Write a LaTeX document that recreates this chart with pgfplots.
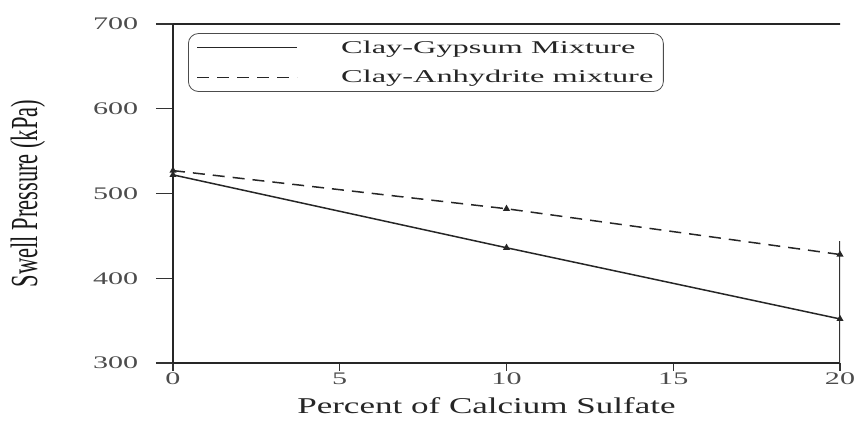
\documentclass[border=0pt]{standalone}
\usepackage{fontspec}
\setmainfont{Liberation Serif}
\usepackage{pgfplots}
\pgfplotsset{compat=1.18}
\newcommand\sx[1]{\scalebox{1.7}[1]{#1}}
\begin{document}
\begin{tikzpicture}
\useasboundingbox (0bp,0bp) rectangle (860bp,430bp);
\begin{axis}[
  at={(173bp,67bp)}, anchor=south west,
  scale only axis, width=667bp, height=339bp,
  xmin=0, xmax=20, ymin=300, ymax=700,
  axis x line*=bottom, axis y line*=left,
  axis line style={line width=1.4bp, black!85},
  xtick={0,5,10,15,20},
  xticklabels={\sx{0},\sx{5},\sx{10},\sx{15},\sx{20}},
  ytick={300,400,500,600,700},
  yticklabels={\sx{300},\sx{400},\sx{500},\sx{600},\sx{700}},
  tick align=outside,
  xtick style={line width=1.1bp, black!80, /pgfplots/major tick length=8bp},
  ytick style={line width=1.1bp, black!80, /pgfplots/major tick length=17bp},
  ticklabel style={font=\fontsize{17.7bp}{20bp}\selectfont, text=black!70},
  xticklabel style={yshift=-2bp},
  yticklabel style={xshift=-27bp},
  xlabel={\scalebox{1.55}[1]{Percent of Calcium Sulfate}},
  xlabel style={at={(axis description cs:0.47,0)}, anchor=north, inner sep=0pt, yshift=-34bp,
    font=\fontsize{22.6bp}{26bp}\selectfont, text=black!85},
  ylabel={\scalebox{1}[1.7]{Swell Pressure (kPa)}},
  ylabel style={at={(axis description cs:0,0.5)}, anchor=center, yshift=145bp,
    font=\fontsize{22.5bp}{26bp}\selectfont, text=black!90},
  legend style={at={(axis description cs:0.0225,0.973)}, anchor=north west,
    draw=black!70, rounded corners=10bp, line width=0.8bp,
    inner xsep=8bp, inner ysep=5bp, row sep=12bp,
    font=\fontsize{18bp}{20bp}\selectfont, text=black!85,
    /tikz/every even column/.append style={column sep=0bp}},
  legend cell align=left,
  legend image code/.code={\draw[#1] (0bp,0bp) -- (100bp,0bp); \path[draw=none] (0bp,0bp) -- (142bp,0bp);},
]
\addplot[line width=1.5bp, black!85, mark=triangle*, mark size=2.6bp, mark options={solid}]
  coordinates {(0,522) (10,436) (20,352)};
\addlegendentry{\scalebox{1.8}[1]{Clay-Gypsum Mixture}}
\addplot[line width=1.5bp, black!85, dash pattern=on 12bp off 8bp, mark=triangle*, mark size=2.6bp, mark options={solid}]
  coordinates {(0,527) (10,482) (20,428)};
\addlegendentry{\scalebox{1.8}[1]{Clay-Anhydrite mixture}}
\draw[line width=1.4bp, black!85] (rel axis cs:0,1) -- ([xshift=15bp]rel axis cs:1,1);
\draw[line width=1.1bp, black!80] (rel axis cs:1,0) -- (rel axis cs:1,0.36);
\end{axis}
\end{tikzpicture}
\end{document}
